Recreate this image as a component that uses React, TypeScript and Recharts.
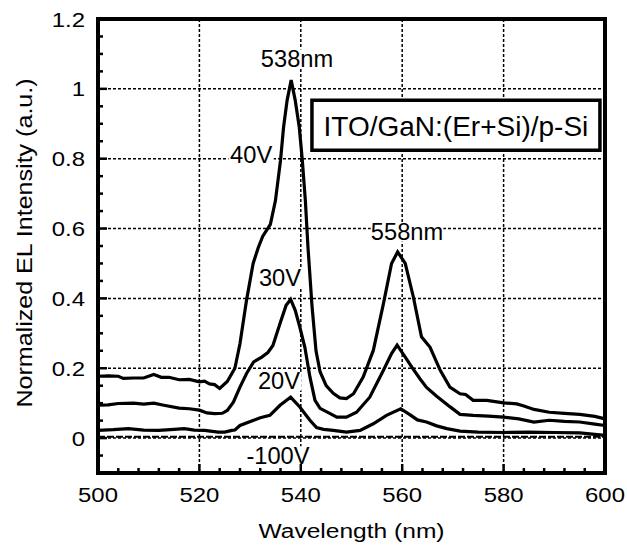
import React from "react";
import {
  LineChart,
  Line,
  XAxis,
  YAxis,
  CartesianGrid,
  ReferenceArea,
  ReferenceDot,
} from "recharts";

const FONT = '"Liberation Sans", Arial, sans-serif';

// [wavelength (nm), normalized EL intensity]
const EL_40V: [number, number][] = [
  [500, 0.177], [502, 0.178], [504, 0.177], [505, 0.171], [507, 0.172], [509, 0.172],
  [511, 0.182], [512.5, 0.174], [514, 0.174], [516, 0.167], [518, 0.168], [520, 0.161],
  [521, 0.163], [522, 0.155], [523, 0.153], [524, 0.142], [525.5, 0.162], [527, 0.2],
  [528, 0.27], [529.3, 0.395], [530.6, 0.5], [531.6, 0.545], [532.5, 0.578], [534, 0.612],
  [535, 0.68], [536, 0.795], [536.6, 0.89], [537.3, 0.967], [538.1, 1.025], [538.9, 0.967],
  [539.7, 0.89], [540.3, 0.795], [540.9, 0.68], [541.4, 0.55], [542.2, 0.38], [543, 0.25],
  [543.8, 0.19], [545, 0.15], [546.4, 0.128], [547.7, 0.115], [549, 0.113], [550.4, 0.127],
  [552.3, 0.175], [554.3, 0.251], [556.3, 0.385], [557.9, 0.5], [559.1, 0.533], [560.6, 0.5],
  [562.2, 0.404], [563.8, 0.29], [565.5, 0.26], [567.5, 0.194], [569.4, 0.146], [571.4, 0.127],
  [572.5, 0.125], [574, 0.108], [576.7, 0.108], [580, 0.101], [582.6, 0.098], [584, 0.092],
  [586, 0.082], [589, 0.074], [592, 0.071], [595, 0.068], [598, 0.062], [600, 0.055],
];

const EL_30V: [number, number][] = [
  [500, 0.094], [502, 0.095], [504, 0.099], [507, 0.1], [509, 0.097], [511, 0.1],
  [513, 0.094], [516, 0.086], [518, 0.084], [520, 0.08], [521.5, 0.072], [523, 0.07],
  [524.5, 0.071], [525.5, 0.079], [526.7, 0.103], [528, 0.146], [529.3, 0.185], [530.7, 0.218],
  [532.3, 0.232], [533.5, 0.245], [534.5, 0.265], [535.9, 0.328], [537.1, 0.38], [538, 0.397],
  [538.9, 0.366], [539.8, 0.318], [540.8, 0.26], [541.8, 0.175], [542.8, 0.108], [543.8, 0.085],
  [545.8, 0.07], [547.1, 0.06], [549, 0.06], [551, 0.074], [553.6, 0.117], [556.3, 0.194],
  [557.9, 0.242], [559, 0.266], [560.6, 0.232], [561.9, 0.203], [563.5, 0.17], [564.8, 0.145],
  [566.8, 0.12], [569.4, 0.09], [571.4, 0.068], [574, 0.065], [577, 0.063], [580, 0.06],
  [583, 0.055], [586, 0.046], [589, 0.051], [592, 0.048], [595, 0.046], [598, 0.04], [600, 0.036],
];

const EL_20V: [number, number][] = [
  [500, 0.022], [503, 0.024], [506, 0.027], [509, 0.023], [512, 0.022], [515, 0.025],
  [517, 0.027], [519, 0.023], [521, 0.022], [523.7, 0.017], [525, 0.017], [526.4, 0.022],
  [527, 0.023], [528, 0.036], [530.7, 0.051], [532, 0.058], [533.9, 0.065], [535.9, 0.094],
  [538, 0.117], [539.8, 0.089], [541.8, 0.051], [543.1, 0.03], [544.5, 0.025], [546.4, 0.022],
  [549, 0.017], [551.7, 0.022], [554.3, 0.041], [556.9, 0.065], [559.7, 0.084], [561.5, 0.067],
  [563, 0.052], [564.8, 0.046], [566.8, 0.035], [568.8, 0.027], [571.4, 0.02], [575, 0.017],
  [580, 0.016], [585, 0.017], [590, 0.016], [595, 0.015], [600, 0.008],
];

const EL_M100V: [number, number][] = [
  [500, 0.004], [525, 0.004], [550, 0.004], [575, 0.004], [600, 0.004],
];

const X_LABELS = [500, 520, 540, 560, 580, 600];
const Y_LABELS = [0, 0.2, 0.4, 0.6, 0.8, 1, 1.2];
const GRID_X = [520, 540, 560, 580];
const GRID_Y = [0, 0.2, 0.4, 0.6, 0.8, 1];
// minor ticks: every 4 nm, every 0.05
const X_TICKS = Array.from({ length: 26 }, (_, i) => 500 + i * 4);
const Y_TICKS = Array.from({ length: 27 }, (_, i) => Math.round((-0.1 + i * 0.05) * 100) / 100);

const NOTES = [
  { wl: 539.25, v: 1.0865, text: "538nm" },
  { wl: 530.2, v: 0.81, text: "40V" },
  { wl: 535.9, v: 0.458, text: "30V" },
  { wl: 535.7, v: 0.163, text: "20V" },
  { wl: 535.5, v: -0.05, text: "-100V" },
  { wl: 560.95, v: 0.59, text: "558nm" },
];

const rows = (pts: [number, number][]) => pts.map(([wl, v]) => ({ wl, v }));

const isMajorX = (v: number) => X_LABELS.includes(v);
const isMajorY = (v: number) => Y_LABELS.some((l) => Math.abs(l - v) < 1e-6);

function SText({ x, y, text, size, sx = 1, anchor = "middle", rotate = 0, bg = false }: any) {
  const w = text.length * size * 0.58 * sx;
  return (
    <g transform={`translate(${x} ${y}) rotate(${rotate})`}>
      {bg && <rect x={-w / 2 - 2} y={-size * 0.76} width={w + 4} height={size * 0.82} fill="#fff" />}
      <text
        transform={`scale(${sx} 1)`}
        textAnchor={anchor}
        fontFamily={FONT}
        fontSize={size}
        fill="#000"
      >
        {text}
      </text>
    </g>
  );
}

const MAJOR = 9;
const MINOR = 5;

function BottomTick({ x, y, payload }: any) {
  const major = isMajorX(payload.value);
  return (
    <g>
      <line x1={x} x2={x} y1={y} y2={y - (major ? MAJOR : MINOR)} stroke="#000" strokeWidth={2.5} />
      {major && <SText x={x} y={y + 29} text={String(payload.value)} size={21} sx={1.14} />}
    </g>
  );
}

function TopTick({ x, y, payload }: any) {
  const major = isMajorX(payload.value);
  return <line x1={x} x2={x} y1={y} y2={y + (major ? MAJOR : MINOR)} stroke="#000" strokeWidth={2.5} />;
}

function LeftTick({ x, y, payload }: any) {
  const major = isMajorY(payload.value);
  return (
    <g>
      <line x1={x} x2={x + (major ? MAJOR : MINOR)} y1={y} y2={y} stroke="#000" strokeWidth={2.5} />
      {major && (
        <SText x={x - 13} y={y + 7.5} text={String(payload.value)} size={21} sx={1.14} anchor="end" />
      )}
    </g>
  );
}

function RightTick({ x, y, payload }: any) {
  const major = isMajorY(payload.value);
  return <line x1={x} x2={x - (major ? MAJOR : MINOR)} y1={y} y2={y} stroke="#000" strokeWidth={2.5} />;
}

export default function App() {
  return (
    <div style={{ position: "absolute", left: 0, top: 0 }}>
      <LineChart width={627} height={546} margin={{ top: 0, right: 0, bottom: 0, left: 0 }}>
        <CartesianGrid
          horizontalValues={GRID_Y}
          verticalValues={GRID_X}
          stroke="#000"
          strokeWidth={1.5}
          strokeDasharray="3 2"
        />
        <XAxis
          xAxisId={0}
          type="number"
          dataKey="wl"
          domain={[500, 600]}
          ticks={X_TICKS}
          interval={0}
          height={73}
          tickSize={0}
          tickMargin={0}
          axisLine={false}
          tickLine={false}
          tick={(p: any) => <BottomTick {...p} />}
          label={{
            content: ({ viewBox }: any) => (
              <SText
                x={viewBox.x + viewBox.width / 2}
                y={viewBox.y + 65}
                text="Wavelength (nm)"
                size={21}
                sx={1.17}
              />
            ),
          }}
        />
        <XAxis
          xAxisId="top"
          orientation="top"
          type="number"
          domain={[500, 600]}
          ticks={X_TICKS}
          interval={0}
          height={19}
          tickSize={0}
          tickMargin={0}
          axisLine={false}
          tickLine={false}
          tick={(p: any) => <TopTick {...p} />}
        />
        <YAxis
          yAxisId={0}
          type="number"
          domain={[-0.1, 1.2]}
          ticks={Y_TICKS}
          interval={0}
          width={98}
          tickSize={0}
          tickMargin={0}
          axisLine={false}
          tickLine={false}
          tick={(p: any) => <LeftTick {...p} />}
          label={{
            content: ({ viewBox }: any) => (
              <SText
                x={31.5}
                y={viewBox.y + viewBox.height / 2 - 3}
                text="Normalized EL Intensity (a.u.)"
                size={22}
                sx={1.14}
                rotate={-90}
              />
            ),
          }}
        />
        <YAxis
          yAxisId="right"
          orientation="right"
          type="number"
          domain={[-0.1, 1.2]}
          ticks={Y_TICKS}
          interval={0}
          width={22}
          tickSize={0}
          tickMargin={0}
          axisLine={false}
          tickLine={false}
          tick={(p: any) => <RightTick {...p} />}
        />

        <Line data={rows(EL_M100V)} dataKey="v" type="linear" stroke="#000" strokeWidth={2} strokeDasharray="7 2" dot={false} isAnimationActive={false} />
        <Line data={rows(EL_20V)} dataKey="v" type="linear" stroke="#000" strokeWidth={3.2} dot={false} isAnimationActive={false} />
        <Line data={rows(EL_30V)} dataKey="v" type="linear" stroke="#000" strokeWidth={3.2} dot={false} isAnimationActive={false} />
        <Line data={rows(EL_40V)} dataKey="v" type="linear" stroke="#000" strokeWidth={3.2} dot={false} isAnimationActive={false} />

        {NOTES.map((n) => (
          <ReferenceDot
            key={n.text}
            x={n.wl}
            y={n.v}
            r={0}
            fill="none"
            stroke="none"
            label={{
              content: ({ viewBox }: any) => (
                <SText
                  x={viewBox.x + (viewBox.width || 0) / 2}
                  y={viewBox.y + (viewBox.height || 0) / 2 + 8.2}
                  text={n.text}
                  size={23}
                  sx={1.03}
                  bg
                />
              ),
            }}
          />
        ))}

        <ReferenceArea
          x1={542.2}
          x2={599}
          y1={0.824}
          y2={0.967}
          fill="#fff"
          fillOpacity={1}
          stroke="#000"
          strokeWidth={3.5}
          label={{
            content: ({ viewBox }: any) => (
              <SText
                x={viewBox.x + viewBox.width / 2}
                y={viewBox.y + viewBox.height / 2 + 10.5}
                text="ITO/GaN:(Er+Si)/p-Si"
                size={28}
              />
            ),
          }}
        />

        <ReferenceArea x1={500} x2={600} y1={-0.1} y2={1.2} fill="none" stroke="#000" strokeWidth={4} />
      </LineChart>
    </div>
  );
}
